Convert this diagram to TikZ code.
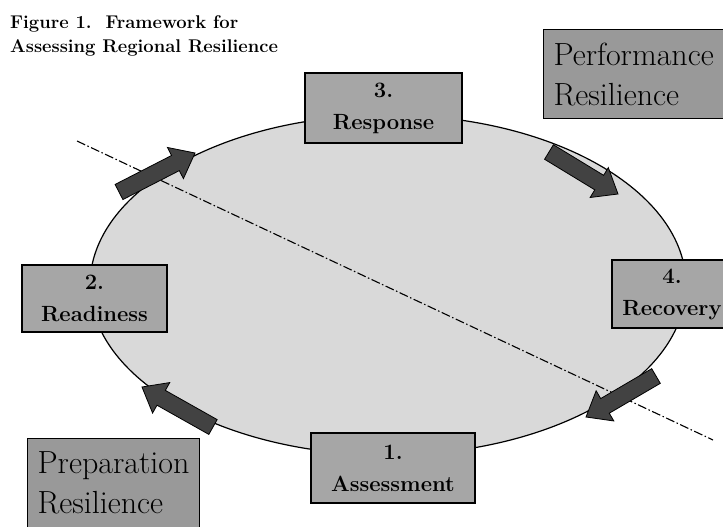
\documentclass[tikz,border=0pt]{standalone}
\usepackage{tikz}
\usetikzlibrary{calc}

\definecolor{ellgray}{gray}{0.85}
\definecolor{boxgray}{gray}{0.65}
\definecolor{labelgray}{gray}{0.6}
\definecolor{arrowgray}{gray}{0.26}

\begin{document}
\begin{tikzpicture}[x=1pt,y=-1pt,
    stagebox/.style={draw=black, line width=1.2pt, fill=boxgray, align=center,
        inner sep=0pt, font=\fontsize{22}{32}\selectfont\bfseries},
    labelbox/.style={draw=black, line width=1.2pt, fill=labelgray, align=left,
        inner sep=10pt, font=\fontsize{32}{40}\selectfont},
    arrowbody/.style={draw=black, line width=0.8pt, fill=arrowgray, line join=miter},
    dashdot/.style={line width=1.1pt, dash pattern=on 9pt off 2.5pt on 1.5pt off 2.5pt}]

\useasboundingbox (0,0) rectangle (723,527);

% cycle
\filldraw[fill=ellgray, draw=black, line width=1.2pt] (388,285) ellipse [x radius=298, y radius=170];

\coordinate (d0) at (77,141);
\coordinate (d1) at (713,440);
\draw[dashdot] (d0) -- (d1);

% arrows: tail / tip
\coordinate (t1) at (119,192);
\coordinate (p1) at (195,153);
\coordinate (t2) at (549,152);
\coordinate (p2) at (618,194);
\coordinate (t3) at (656,376);
\coordinate (p3) at (586,417);
\coordinate (t4) at (213,427);
\coordinate (p4) at (142,387);

\foreach \t/\p in {t1/p1, t2/p2, t3/p3, t4/p4}
{
    \coordinate (h) at ($(\p)!22pt!(\t)$);
    \draw[arrowbody] ($(\t)!8.5pt!90:(\p)$) -- ($(h)!8.5pt!90:(\p)$)
        -- ($(h)!17.5pt!90:(\p)$) -- (\p) -- ($(h)!17.5pt!-90:(\p)$)
        -- ($(h)!8.5pt!-90:(\p)$) -- ($(\t)!8.5pt!-90:(\p)$) -- cycle;
}

\node[stagebox, minimum width=157pt, minimum height=70pt] (resp)   at (383.5,108) {3.\\Response};
\node[stagebox, minimum width=145pt, minimum height=67pt] (ready)  at (94.5,298.5) {2.\\Readiness};
\node[stagebox, minimum width=120pt, minimum height=68pt] (recov)  at (672,294)   {4.\\Recovery};
\node[stagebox, minimum width=164pt, minimum height=70pt] (assess) at (393,468)   {1.\\Assessment};

\node[labelbox, text width=172pt, minimum height=89pt, anchor=north west] (perf) at (543,29) {Performance\\Resilience};
\node[labelbox, text width=152pt, minimum height=89pt, anchor=north west] (prep) at (27,438) {Preparation\\Resilience};

\node[anchor=north west, align=left, inner sep=0pt, font=\fontsize{18.4}{24}\selectfont\bfseries]
    (title) at (10,15) {Figure 1.\ \ Framework for\\Assessing Regional Resilience};

\end{tikzpicture}
\end{document}
